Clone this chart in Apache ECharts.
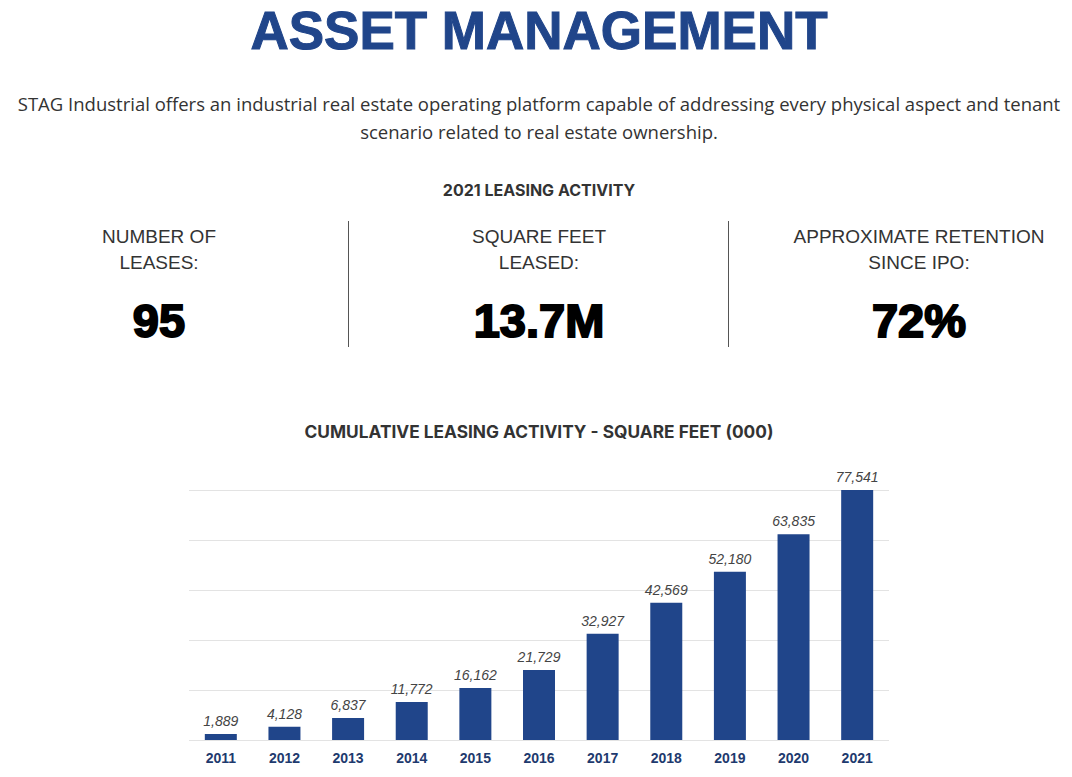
<!DOCTYPE html>
<html>
<head>
<meta charset="utf-8">
<script src="https://cdn.jsdelivr.net/npm/echarts@6/dist/echarts.min.js"></script>
<style>
  html, body { margin: 0; padding: 0; background: #fff; }
  #chart { width: 1072px; height: 777px; }
</style>
</head>
<body>
<div id="chart"></div>
<script>
// ---- Data ----
const years = ['2011', '2012', '2013', '2014', '2015', '2016', '2017', '2018', '2019', '2020', '2021'];
const cumulativeSqFt = [1889, 4128, 6837, 11772, 16162, 21729, 32927, 42569, 52180, 63835, 77541];
const statLabels = [['NUMBER OF', 'LEASES:'], ['SQUARE FEET', 'LEASED:'], ['APPROXIMATE RETENTION', 'SINCE IPO:']];
const statValues = ['95', '13.7M', '72%'];
const pageTitle = 'ASSET MANAGEMENT';
const introLines = [
  'STAG Industrial offers an industrial real estate operating platform capable of addressing every physical aspect and tenant',
  'scenario related to real estate ownership.'
];
const sectionTitle = '2021 LEASING ACTIVITY';
const chartTitle = 'CUMULATIVE LEASING ACTIVITY - SQUARE FEET (000)';

// ---- Styles ----
const NAVY = '#20458a';
const TEXT = '#333333';

const chart = echarts.init(document.getElementById('chart'), null, { renderer: 'svg' });

const graphics = [];
graphics.push({
  type: 'text', style: {
    text: pageTitle, x: 539, y: 30, textAlign: 'center', textVerticalAlign: 'middle',
    fontFamily: '"Liberation Sans", Arial, sans-serif', fontWeight: 'bold', fontSize: 53,
    fill: NAVY, stroke: NAVY, lineWidth: 1
  }
});
introLines.forEach((t, i) => {
  graphics.push({
    type: 'text', style: {
      text: t, x: 539, y: 103 + i * 28, textAlign: 'center', textVerticalAlign: 'middle',
      fontFamily: '"Open Sans", sans-serif', fontSize: 18.5, fill: TEXT
    }
  });
});
graphics.push({
  type: 'text', style: {
    text: sectionTitle, x: 539, y: 190, textAlign: 'center', textVerticalAlign: 'middle',
    fontFamily: 'Inter, sans-serif', fontWeight: 'bold', fontSize: 16, fill: TEXT
  }
});
const colCenters = [159, 539, 919];
statLabels.forEach((lines, i) => {
  lines.forEach((t, j) => {
    graphics.push({
      type: 'text', style: {
        text: t, x: colCenters[i], y: 236 + j * 26, textAlign: 'center', textVerticalAlign: 'middle',
        fontFamily: '"Liberation Sans", Arial, sans-serif', fontSize: 19, fill: TEXT
      }
    });
  });
  graphics.push({
    type: 'text', style: {
      text: statValues[i], x: colCenters[i], y: 320, textAlign: 'center', textVerticalAlign: 'middle',
      fontFamily: '"Liberation Sans", Arial, sans-serif', fontWeight: 'bold', fontSize: 47,
      fill: '#000', stroke: '#000', lineWidth: 2
    }
  });
});
[348.5, 728.5].forEach(x => {
  graphics.push({
    type: 'line', shape: { x1: x, y1: 221, x2: x, y2: 347 },
    style: { stroke: '#555', lineWidth: 1 }
  });
});
graphics.push({
  type: 'text', style: {
    text: chartTitle, x: 539, y: 431, textAlign: 'center', textVerticalAlign: 'middle',
    fontFamily: 'Inter, sans-serif', fontWeight: 'bold', fontSize: 17.3, fill: TEXT
  }
});

const option = {
  animation: false,
  backgroundColor: '#fff',
  graphic: graphics,
  grid: { left: 189, right: 183, top: 490, bottom: 37, containLabel: false },
  xAxis: {
    type: 'category',
    data: years,
    axisLine: { show: false },
    axisTick: { show: false },
    axisLabel: {
      margin: 11, color: '#1e3a6e', fontWeight: 'bold', fontSize: 14,
      fontFamily: '"Liberation Sans", Arial, sans-serif'
    }
  },
  yAxis: {
    type: 'value',
    min: 0,
    max: 77541,
    interval: 77541 / 5,
    axisLabel: { show: false },
    axisLine: { show: false },
    axisTick: { show: false },
    splitLine: { lineStyle: { color: '#e3e3e3', width: 1 } }
  },
  series: [{
    type: 'bar',
    data: cumulativeSqFt,
    barWidth: 32,
    itemStyle: { color: NAVY },
    label: {
      show: true, position: 'top', distance: 6,
      fontStyle: 'italic', fontSize: 14, color: '#444',
      fontFamily: '"Liberation Sans", Arial, sans-serif',
      formatter: p => p.value.toLocaleString('en-US')
    }
  }]
};
chart.setOption(option);
</script>
</body>
</html>
